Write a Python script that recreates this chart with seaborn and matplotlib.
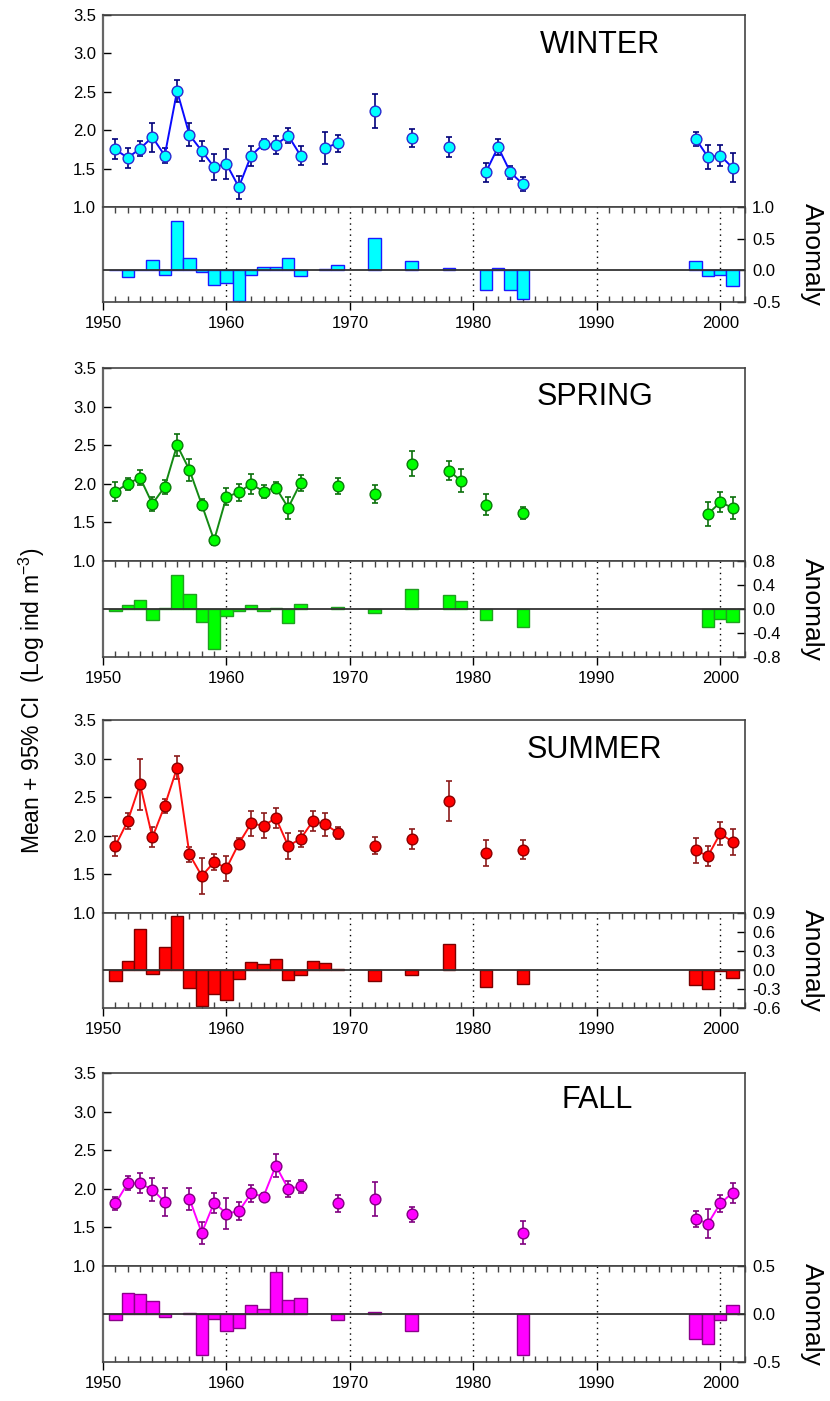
import numpy as np
import pandas as pd
import matplotlib
matplotlib.use("Agg")
import matplotlib.pyplot as plt
import seaborn as sns
from matplotlib.ticker import MultipleLocator, FixedLocator

sns.set_theme(style="white")
plt.rcParams['font.family'] = ['Liberation Sans', 'DejaVu Sans']
plt.rcParams['mathtext.fontset'] = 'custom'
plt.rcParams['mathtext.rm'] = 'Liberation Sans'
plt.rcParams['mathtext.it'] = 'Liberation Sans'

# ---------------- data ----------------
winter_years = [1951, 1952, 1953, 1954, 1955, 1956, 1957, 1958, 1959, 1960, 1961, 1962, 1963, 1964, 1965, 1966,
                1968, 1969, 1972, 1975, 1978, 1981, 1982, 1983, 1984, 1998, 1999, 2000, 2001]
winter_mean = [1.75, 1.64, 1.76, 1.91, 1.67, 2.51, 1.94, 1.73, 1.52, 1.56, 1.26, 1.67, 1.82, 1.81, 1.93, 1.67,
               1.77, 1.83, 2.25, 1.90, 1.78, 1.45, 1.78, 1.45, 1.30, 1.89, 1.65, 1.67, 1.51]
winter_ci = [0.13, 0.13, 0.10, 0.19, 0.10, 0.14, 0.15, 0.13, 0.17, 0.19, 0.15, 0.13, 0.07, 0.12, 0.10, 0.12,
             0.21, 0.11, 0.22, 0.12, 0.13, 0.12, 0.10, 0.08, 0.09, 0.09, 0.16, 0.14, 0.19]
winter_anom = [0.00, -0.11, 0.01, 0.17, -0.08, 0.78, 0.19, -0.02, -0.23, -0.20, -0.49, -0.07, 0.06, 0.06, 0.19, -0.09,
               0.02, 0.08, 0.51, 0.15, 0.03, -0.31, 0.03, -0.31, -0.46, 0.15, -0.09, -0.07, -0.24]

spring_years = [1951, 1952, 1953, 1954, 1955, 1956, 1957, 1958, 1959, 1960, 1961, 1962, 1963, 1964, 1965, 1966,
                1969, 1972, 1975, 1978, 1979, 1981, 1984, 1999, 2000, 2001]
spring_mean = [1.90, 2.00, 2.08, 1.74, 1.96, 2.50, 2.18, 1.73, 1.27, 1.83, 1.89, 2.00, 1.90, 1.95, 1.69, 2.01,
               1.97, 1.87, 2.26, 2.17, 2.04, 1.73, 1.62, 1.61, 1.76, 1.69]
spring_ci = [0.12, 0.08, 0.10, 0.09, 0.09, 0.14, 0.14, 0.07, 0.06, 0.11, 0.11, 0.13, 0.08, 0.07, 0.14, 0.10,
             0.10, 0.12, 0.16, 0.12, 0.15, 0.14, 0.08, 0.16, 0.13, 0.14]
spring_anom = [-0.03, 0.07, 0.15, -0.18, 0.02, 0.57, 0.25, -0.21, -0.67, -0.11, -0.03, 0.07, -0.03, 0.02, -0.24, 0.08,
               0.04, -0.07, 0.33, 0.24, 0.13, -0.19, -0.30, -0.30, -0.17, -0.22]

summer_years = [1951, 1952, 1953, 1954, 1955, 1956, 1957, 1958, 1959, 1960, 1961, 1962, 1963, 1964, 1965, 1966,
                1967, 1968, 1969, 1972, 1975, 1978, 1981, 1984, 1998, 1999, 2000, 2001]
summer_mean = [1.87, 2.19, 2.67, 1.98, 2.39, 2.88, 1.76, 1.48, 1.66, 1.58, 1.90, 2.16, 2.13, 2.23, 1.87, 1.96,
               2.19, 2.15, 2.04, 1.87, 1.96, 2.45, 1.78, 1.82, 1.81, 1.74, 2.03, 1.92]
summer_ci = [0.13, 0.10, 0.33, 0.13, 0.09, 0.15, 0.10, 0.23, 0.10, 0.16, 0.07, 0.16, 0.16, 0.13, 0.17, 0.10,
             0.13, 0.15, 0.08, 0.11, 0.13, 0.26, 0.17, 0.12, 0.16, 0.13, 0.15, 0.17]
summer_anom = [-0.17, 0.15, 0.64, -0.06, 0.36, 0.85, -0.28, -0.57, -0.38, -0.47, -0.14, 0.12, 0.10, 0.18, -0.16, -0.08,
               0.15, 0.11, 0.01, -0.17, -0.08, 0.41, -0.27, -0.22, -0.23, -0.30, -0.02, -0.12]

fall_years = [1951, 1952, 1953, 1954, 1955, 1957, 1958, 1959, 1960, 1961, 1962, 1963, 1964, 1965, 1966,
              1969, 1972, 1975, 1984, 1998, 1999, 2000, 2001]
fall_mean = [1.81, 2.07, 2.07, 1.99, 1.83, 1.87, 1.43, 1.82, 1.68, 1.71, 1.94, 1.90, 2.30, 2.00, 2.03,
             1.81, 1.87, 1.67, 1.43, 1.61, 1.55, 1.81, 1.95]
fall_ci = [0.09, 0.09, 0.13, 0.15, 0.18, 0.14, 0.14, 0.13, 0.20, 0.12, 0.11, 0.05, 0.15, 0.10, 0.09,
           0.11, 0.22, 0.10, 0.15, 0.10, 0.19, 0.11, 0.13]
fall_anom = [-0.06, 0.22, 0.21, 0.14, -0.03, 0.01, -0.43, -0.05, -0.18, -0.15, 0.09, 0.05, 0.44, 0.15, 0.17,
             -0.06, 0.02, -0.18, -0.43, -0.26, -0.31, -0.06, 0.09]

season_names = ["WINTER", "SPRING", "SUMMER", "FALL"]
anom_ticks = [[-0.5, 0.0, 0.5, 1.0], [-0.8, -0.4, 0.0, 0.4, 0.8],
              [-0.6, -0.3, 0.0, 0.3, 0.6, 0.9], [-0.5, 0.0, 0.5]]
mean_ticks = [1.0, 1.5, 2.0, 2.5, 3.0, 3.5]
year_ticks = [1950, 1960, 1970, 1980, 1990, 2000]

# ---------------- styling ----------------
styles = [
    dict(line="#0a0aff", face="#00ffff", edge="#2a2ad0", err="#00007a", bedge="#1a1aff"),
    dict(line="#138a13", face="#00ff00", edge="#0a7a0a", err="#0a700a", bedge="#20a020"),
    dict(line="#ff1010", face="#ff0000", edge="#8b0000", err="#8b1a1a", bedge="#7a0000"),
    dict(line="#ff00ff", face="#ff00ff", edge="#800080", err="#800080", bedge="#8b008b"),
]
panels_px = [(15, 207, 302), (368, 561, 657), (720, 913, 1008), (1073, 1266, 1362)]
title_pos = [(0.774, 0.845), (0.766, 0.85), (0.766, 0.845), (0.769, 0.86)]

W, H = 830, 1401
L, R = 103, 745
spine_col = "#444444"
TICK_FS = 12

fig = plt.figure(figsize=(8.3, 14.01), dpi=100)

datasets = [
    (winter_years, winter_mean, winter_ci, winter_anom),
    (spring_years, spring_mean, spring_ci, spring_anom),
    (summer_years, summer_mean, summer_ci, summer_anom),
    (fall_years, fall_mean, fall_ci, fall_anom),
]

for i, (yrs, mn, ci, an) in enumerate(datasets):
    st = styles[i]
    top, mid, bot = panels_px[i]
    ax = fig.add_axes([L / W, 1 - mid / H, (R - L) / W, (mid - top) / H])
    axa = fig.add_axes([L / W, 1 - bot / H, (R - L) / W, (bot - mid) / H])

    df = pd.DataFrame({"year": yrs, "mean": mn, "ci": ci, "anom": an})
    df["seg"] = (df["year"].diff() != 1).cumsum()

    sns.lineplot(data=df, x="year", y="mean", units="seg", estimator=None,
                 color=st["line"], lw=1.4, ax=ax, legend=False, zorder=2)
    ax.errorbar(df["year"], df["mean"], yerr=df["ci"], fmt="none", ecolor=st["err"],
                elinewidth=1.2, capsize=2.5, capthick=1.2, zorder=1.5)
    sns.scatterplot(data=df, x="year", y="mean", color=st["face"], edgecolor=st["edge"],
                    s=60, linewidth=1.0, ax=ax, legend=False, zorder=3)

    ax.set_xlim(1950, 2002)
    ax.set_ylim(1.0, 3.5)
    ax.yaxis.set_major_locator(FixedLocator(mean_ticks))
    ax.set_yticklabels([f"{v:.1f}" for v in mean_ticks])
    ax.set_xticks([])
    ax.tick_params(axis="y", direction="in", length=6, width=1, labelsize=TICK_FS,
                   colors="black", left=True, right=False, pad=5)
    ax.set_xlabel("")
    ax.set_ylabel("")
    for s in ax.spines.values():
        s.set_color(spine_col)
        s.set_linewidth(1.2)
    ax.spines["left"].set_color("#666666")
    ax.spines["left"].set_linewidth(1.6)
    ax.text(title_pos[i][0], title_pos[i][1], season_names[i], transform=ax.transAxes,
            ha="center", va="center", fontsize=22, color="black")

    # anomaly axes
    axa.bar(df["year"], df["anom"], width=1.0, color=st["face"], edgecolor=st["bedge"],
            linewidth=1.0, zorder=2)
    axa.axhline(0, color="#333333", lw=1.3, zorder=3)
    for yv in year_ticks[1:]:
        axa.axvline(yv, color="black", lw=1.0, ls=(0, (1, 3)), zorder=1)
    t = anom_ticks[i]
    axa.set_xlim(1950, 2002)
    axa.set_ylim(t[0], t[-1])
    axa.yaxis.set_major_locator(FixedLocator(t))
    axa.set_yticklabels([f"{v:.1f}" for v in t])
    axa.yaxis.tick_right()
    axa.tick_params(axis="y", direction="in", length=6, width=1, labelsize=TICK_FS,
                    colors="black", left=False, right=True, pad=5)
    axa.xaxis.set_major_locator(FixedLocator(year_ticks))
    axa.set_xticklabels([str(y) for y in year_ticks])
    axa.xaxis.set_minor_locator(MultipleLocator(1))
    axa.tick_params(axis="x", which="major", direction="out", length=6, width=1,
                    labelsize=TICK_FS, bottom=True, top=False, pad=4, colors="black")
    axa.tick_params(axis="x", which="minor", direction="in", length=4, width=1,
                    bottom=True, top=True, colors=spine_col)
    for s in axa.spines.values():
        s.set_color(spine_col)
        s.set_linewidth(1.2)
    axa.spines["left"].set_color("#666666")
    axa.spines["left"].set_linewidth(1.6)
    axa.set_ylabel("")
    axa.set_xlabel("")
    fig.text(812 / W, 1 - ((mid + bot) / 2) / H, "Anomaly", rotation=270,
             ha="center", va="center", fontsize=19, color="black")

fig.text(32 / W, 0.5, "Mean + 95% CI  (Log ind m$^{-3}$)", rotation=90,
         ha="center", va="center", fontsize=16.5, color="black")

fig.savefig("out.png", dpi=100)
